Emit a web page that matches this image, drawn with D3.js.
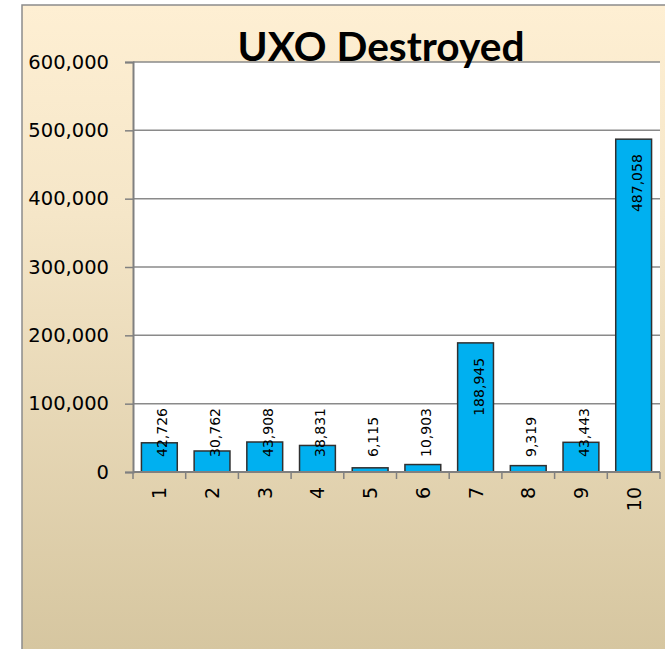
<!DOCTYPE html>
<html><head><meta charset="utf-8">
<script src="https://cdn.jsdelivr.net/npm/d3@7/dist/d3.min.js"></script>
<style>html,body{margin:0;padding:0;background:#fff;overflow:hidden}</style>
</head><body>
<svg id="c" width="665" height="649"></svg>
<script>
const categories = ["1","2","3","4","5","6","7","8","9","10"];
const values = [42726, 30762, 43908, 38831, 6115, 10903, 188945, 9319, 43443, 487058];
const yTicks = [0, 100000, 200000, 300000, 400000, 500000, 600000];
const title = "UXO Destroyed";

const svg = d3.select("#c");
const defs = svg.append("defs");
const grad = defs.append("linearGradient").attr("id","bg").attr("x1",0).attr("y1",0).attr("x2",0).attr("y2",1);
grad.append("stop").attr("offset","0%").attr("stop-color","#FEEFD3");
grad.append("stop").attr("offset","30%").attr("stop-color","#F5E6C8");
grad.append("stop").attr("offset","100%").attr("stop-color","#D2C29B");

svg.append("rect").attr("x",22).attr("y",5).attr("width",700).attr("height",700)
  .attr("fill","url(#bg)").attr("stroke","#8c8c8c").attr("stroke-width",1.5);

const L = 133, R = 660, T = 62, B = 472;
const x = d3.scaleBand().domain(categories).range([L, R]).paddingInner(0.32).paddingOuter(0.16);
const y = d3.scaleLinear().domain([0, 600000]).range([B, T]);

svg.append("rect").attr("x",L).attr("y",T).attr("width",R-L).attr("height",B-T).attr("fill","#fff");

svg.append("g").selectAll("line").data(yTicks.filter(d=>d>0)).join("line")
  .attr("x1",L).attr("x2",R).attr("y1",d=>y(d)).attr("y2",d=>y(d))
  .attr("stroke","#8a8a8a").attr("stroke-width",1.5);

// y axis
const ya = svg.append("g").attr("transform",`translate(${L},0)`)
  .call(d3.axisLeft(y).tickValues(yTicks).tickSize(8).tickPadding(16).tickFormat(d3.format(",")));
ya.select(".domain").attr("stroke","#808080").attr("stroke-width",2);
ya.selectAll(".tick line").attr("stroke","#808080").attr("stroke-width",1.5);
ya.selectAll("text").attr("font-family","DejaVu Sans").attr("font-size",19.5).attr("fill","#000");

// bars
svg.append("g").selectAll("rect").data(values).join("rect")
  .attr("x",(d,i)=>x(categories[i])).attr("width",x.bandwidth())
  .attr("y",d=>y(d)).attr("height",d=>B-y(d))
  .attr("fill","#00B0F0").attr("stroke","#303030").attr("stroke-width",1.5);

// x axis
svg.append("line").attr("x1",L).attr("x2",R).attr("y1",B).attr("y2",B).attr("stroke","#808080").attr("stroke-width",2);
svg.append("g").selectAll("line").data(d3.range(categories.length+1)).join("line")
  .attr("x1",i=>L+i*(R-L)/categories.length).attr("x2",i=>L+i*(R-L)/categories.length)
  .attr("y1",B).attr("y2",B+7).attr("stroke","#808080").attr("stroke-width",1.5);
svg.append("g").selectAll("text").data(categories).join("text")
  .attr("transform",d=>`translate(${x(d)+x.bandwidth()/2+7},${B+15}) rotate(-90)`)
  .attr("text-anchor","end").attr("font-family","DejaVu Sans").attr("font-size",19).attr("fill","#000")
  .text(d=>d);

// data labels
const fmt = d3.format(",");
const lbl = svg.append("g").selectAll("text").data(values).join("text")
  .attr("font-family","DejaVu Sans").attr("font-size",14).attr("fill","#000")
  .attr("text-anchor","start").text(d=>fmt(d));
lbl.each(function(d,i){
  const len = this.getComputedTextLength();
  const bottom = Math.min(y(d)+15+len, 457);
  d3.select(this).attr("transform",`translate(${x(categories[i])+x.bandwidth()/2+8},${bottom}) rotate(-90)`);
});

// title
const t = svg.append("text").attr("x",381).attr("y",61).attr("text-anchor","middle")
  .attr("font-family","Lato").attr("font-weight","bold").attr("font-size",40).attr("fill","#000").text(title);
const tl = t.node().getComputedTextLength();
t.attr("font-size", 40*287/tl);
</script>
</body></html>
